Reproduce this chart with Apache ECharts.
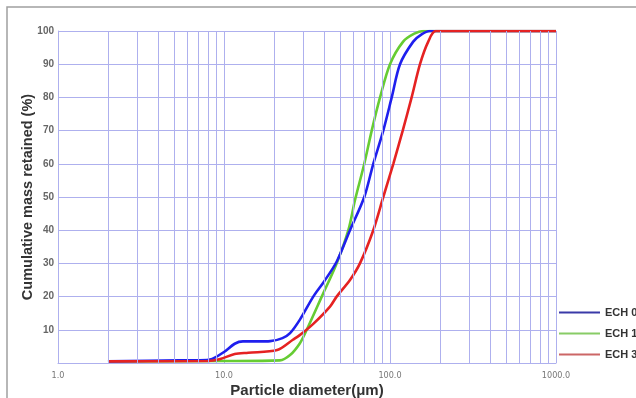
<!DOCTYPE html>
<html>
<head>
<meta charset="utf-8">
<script src="https://cdn.jsdelivr.net/npm/echarts@6/dist/echarts.min.js"></script>
<style>html,body{margin:0;padding:0;background:#fff}#c{width:636px;height:398px}</style>
</head>
<body>
<div id="c"></div>
<script>
// ---- data ----
var seriesNames = ['ECH 0%', 'ECH 15%', 'ECH 30%'];
var ech0Diam = [2, 5.4, 7.9, 8.5, 10, 11.6, 13, 16, 19, 22.5, 25, 28.6, 34.5, 40, 47.7, 57.4, 70, 79.3, 91.1, 102.4, 114.9, 138, 155, 174, 1000];
var ech0Val  = [0.5, 0.8, 0.9, 1.2, 3.3, 5.8, 6.5, 6.5, 6.6, 7.5, 9, 13, 20, 24.5, 30.5, 40, 50, 60, 70, 80, 90, 96.8, 99, 100, 100];
var ech15Diam = [2, 10, 21.7, 25, 28.6, 31.5, 38.8, 47.7, 56.1, 61.5, 70, 77.6, 87.1, 100, 120, 140, 159, 1000];
var ech15Val  = [0.5, 0.6, 0.8, 2.4, 5.9, 10, 20, 30, 40, 49, 60, 70, 80, 90, 96.8, 99.2, 100, 100];
var ech30Diam = [2, 8, 9.5, 11.6, 14, 20.9, 26, 28.6, 34.5, 43.5, 47.7, 57.4, 65.9, 79.3, 91.1, 104.7, 119.3, 135, 151.6, 170, 189, 1000];
var ech30Val  = [0.5, 0.6, 1.2, 2.7, 3.1, 3.9, 7, 8.4, 11.8, 17, 20, 25, 30, 40, 50, 60, 70, 80, 90, 96.8, 100, 100];
var minorGridX = [2,3,4,5,6,7,8,9,20,30,40,50,60,70,80,90,200,300,400,500,600,700,800,900];
var xMin = 1, xMax = 1000;
var yMin = 0, yMax = 100, yStep = 10;

function pairs(xs, ys) { return xs.map(function (x, i) { return [x, ys[i]]; }); }

var gridColor = '#aeb0ee';
var colors = ['#1f1fee', '#66cc33', '#e52222'];
var legendColors = ['#3a3aa8', '#88cc66', '#cc6666'];

var chart = echarts.init(document.getElementById('c'), null, {renderer: 'canvas'});
chart.setOption({
  animation: false,
  backgroundColor: '#ffffff',
  grid: {left: 58, top: 31, right: 80, bottom: 35, containLabel: false, outerBoundsMode: 'none'},
  graphic: [{
    type: 'polyline', silent: true, z: -1,
    shape: {points: [[7, 398], [7, 7], [636, 7]]},
    style: {stroke: '#a0a0a0', lineWidth: 1.5, fill: null}
  }],
  xAxis: {
    type: 'log', logBase: 10, min: xMin, max: xMax,
    name: 'Particle diameter(\u03bcm)', nameLocation: 'middle', nameGap: 20.5, nameMoveOverlap: false,
    nameTextStyle: {fontFamily: 'Liberation Sans', fontWeight: 'bold', fontSize: 15, color: '#333'},
    axisLine: {show: true, lineStyle: {color: gridColor, width: 1}},
    axisTick: {show: false},
    axisLabel: {color: '#777', fontSize: 9, fontFamily: 'DejaVu Sans Condensed, Liberation Sans Narrow, Liberation Sans', margin: 8,
      formatter: function (v) { return Number(v).toFixed(1); }},
    splitLine: {show: true, lineStyle: {color: gridColor, width: 1}},
    minorSplitLine: {show: false}
  },
  yAxis: {
    type: 'value', min: yMin, max: yMax, interval: yStep,
    name: 'Cumulative mass retained (%)', nameLocation: 'middle', nameGap: 23, nameMoveOverlap: false,
    nameTextStyle: {fontFamily: 'Liberation Sans', fontWeight: 'bold', fontSize: 14.5, color: '#333'},
    axisLine: {show: true, lineStyle: {color: gridColor, width: 1}},
    axisTick: {show: false},
    axisLabel: {color: '#666', fontSize: 10, fontWeight: 'bold', fontFamily: 'Liberation Sans', margin: 4,
      formatter: function (v) { return v === 0 ? '' : String(v); }},
    splitLine: {show: true, lineStyle: {color: gridColor, width: 1}}
  },
  legend: {
    orient: 'vertical', left: 559, top: 307, itemGap: 10, padding: 0,
    itemWidth: 41, itemHeight: 2, icon: 'rect',
    textStyle: {fontFamily: 'Liberation Sans', fontWeight: 'bold', fontSize: 11, color: '#333'},
    data: seriesNames.map(function (n, i) { return {name: n, itemStyle: {color: legendColors[i]}}; })
  },
  series: [
    {type: 'line', name: 'grid-minor', data: [], silent: true,
      markLine: {silent: true, symbol: ['none', 'none'], label: {show: false},
        lineStyle: {color: gridColor, width: 1, type: 'solid'},
        data: minorGridX.map(function (v) { return {xAxis: v}; })}},
    {type: 'line', name: seriesNames[0], data: pairs(ech0Diam, ech0Val), showSymbol: false, smooth: 0.3,
      lineStyle: {color: colors[0], width: 2.6}, itemStyle: {color: colors[0]}, z: 3},
    {type: 'line', name: seriesNames[1], data: pairs(ech15Diam, ech15Val), showSymbol: false, smooth: 0.3,
      lineStyle: {color: colors[1], width: 2.6}, itemStyle: {color: colors[1]}, z: 2},
    {type: 'line', name: seriesNames[2], data: pairs(ech30Diam, ech30Val), showSymbol: false, smooth: 0.3,
      lineStyle: {color: colors[2], width: 2.6}, itemStyle: {color: colors[2]}, z: 4}
  ]
});
</script>
</body>
</html>
